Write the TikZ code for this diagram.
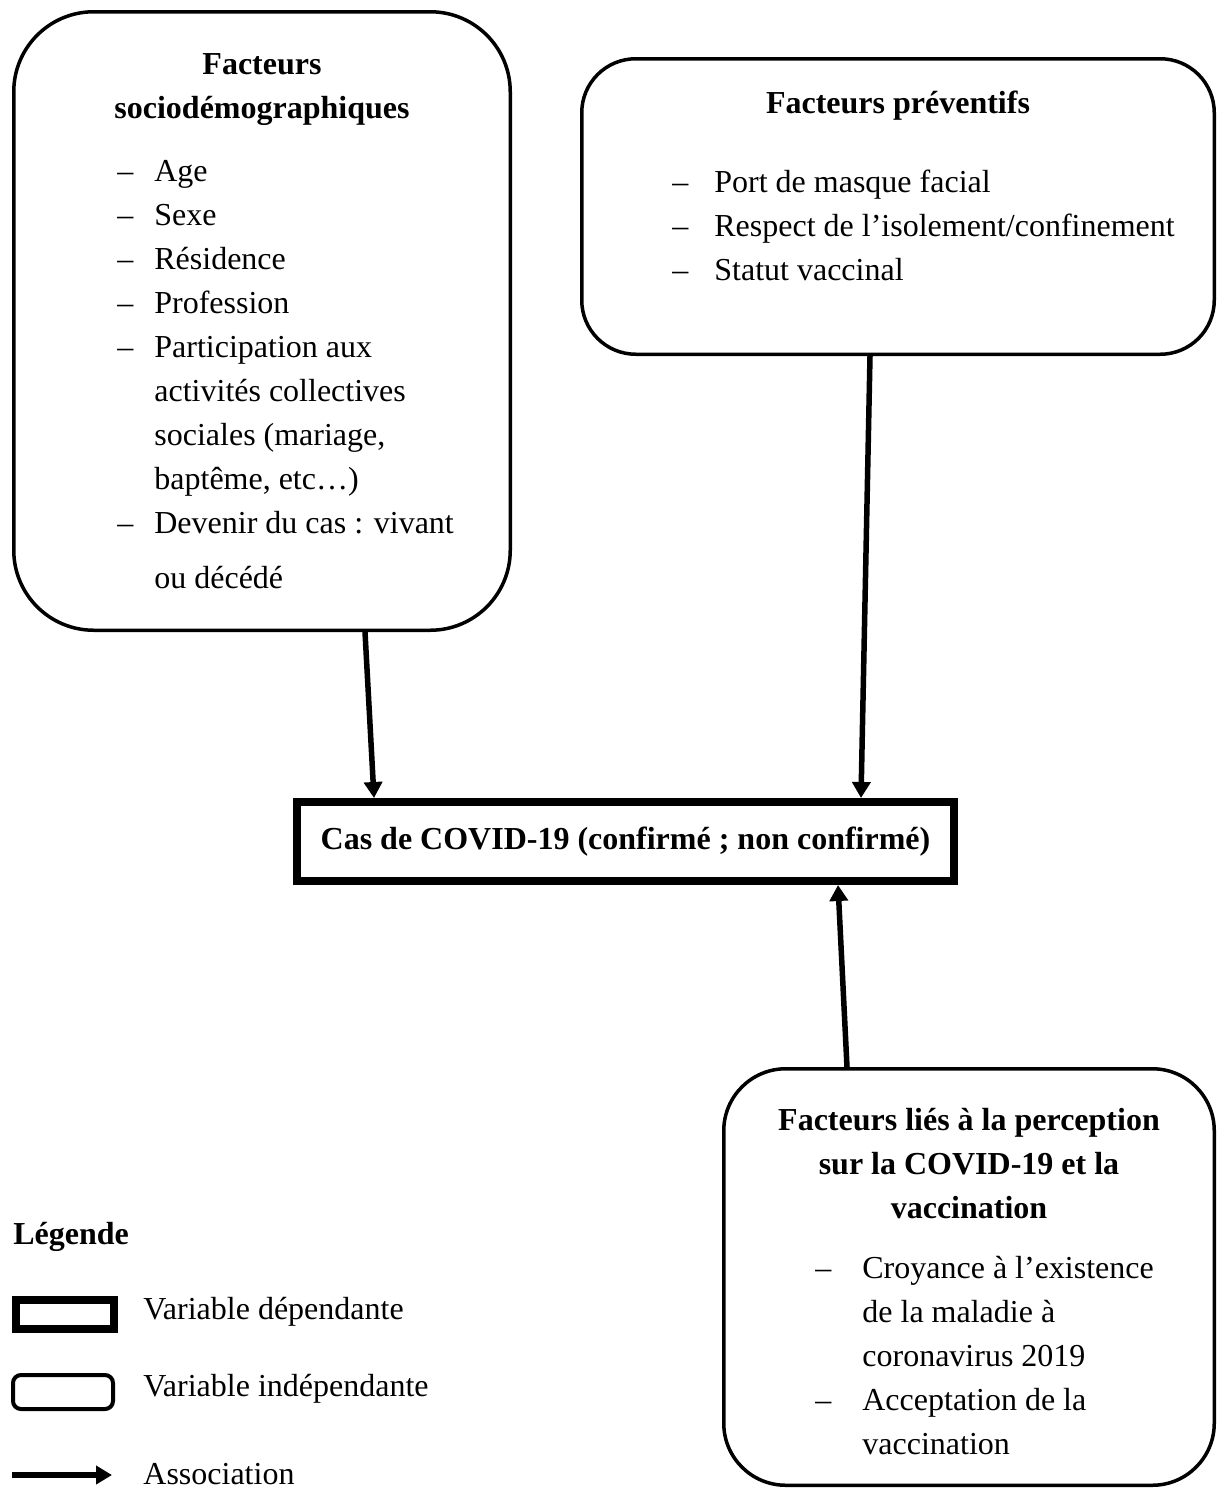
\documentclass[tikz,border=0pt]{standalone}
\usepackage{fontspec}
\setmainfont{Liberation Serif}
\usetikzlibrary{arrows.meta,calc,positioning}
\tikzset{
	concept map/.style={
		x=0.5pt, y=-0.5pt,
		font=\fontsize{16}{22}\selectfont,
		every node/.style={inner sep=0pt},
		ar/.style={-{Triangle[length=8pt,width=9pt]}, line width=2.75pt},
		node distance=16pt
		},
	factor/.style={draw, line width=1.75pt, rounded corners=#1, anchor=north west},
	factor/.default=30pt,
	outcome/.style={draw, line width=4pt, minimum width=328.5pt, minimum height=39.5pt,
		font=\fontsize{16}{22}\selectfont\bfseries},
	head/.style={font=\fontsize{16}{22}\selectfont\bfseries},
	list/.style={anchor=north west},
	key/.style={anchor=mid west}
}

\begin{document}
\begin{tikzpicture}[concept map]
	\useasboundingbox (0,0) rectangle (1218,1488);
	\node[factor=40pt, minimum width=248.25pt, minimum height=309.25pt] (F1) at (12,10) {};
	\node[factor=27pt, minimum width=316.25pt, minimum height=147.75pt] (F2) at (580,57) {};
	\node[factor=31pt, minimum width=245.25pt, minimum height=208.25pt] (F3) at (722,1067) {};
	\node[outcome] (Y) at (625.5,841.5) {Cas de COVID-19 (confirmé ; non confirmé)};
	\node[head, below=16.5pt of F1.north] (F1_name) {\begin{tabular}{@{}c@{}}Facteurs\\sociodémographiques\end{tabular}};
	\node[head, below=12.5pt of F2.north] (F2_name) {\begin{tabular}{@{}c@{}}Facteurs préventifs\end{tabular}};
	\node[head, below=16pt of F3.north] (F3_name) {\begin{tabular}{@{}c@{}}Facteurs liés à la perception\\sur la COVID-19 et la\\vaccination\end{tabular}};
	\node[list] (F1_list) at (117,150) {\begin{tabular}{@{}p{18.5pt}@{}l@{}}
		\textendash & Age\\
		\textendash & Sexe\\
		\textendash & Résidence\\
		\textendash & Profession\\
		\textendash & Participation aux\\
		& activités collectives\\
		& sociales (mariage,\\
		& baptême, etc…)\\
		\textendash & Devenir du cas : vivant\\[5.5pt]
		& ou décédé
		\end{tabular}};
	\node[list] (F2_list) at (672,161) {\begin{tabular}{@{}p{21pt}@{}l@{}}
		\textendash & Port de masque facial\\
		\textendash & Respect de l’isolement/confinement\\
		\textendash & Statut vaccinal
		\end{tabular}};
	\node[list] (F3_list) at (815,1247) {\begin{tabular}{@{}p{23.5pt}@{}l@{}}
		\textendash & Croyance à l’existence\\
		& de la maladie à\\
		& coronavirus 2019\\
		\textendash & Acceptation de la\\
		& vaccination
		\end{tabular}};
	\draw[ar] ($(F1.south)+(103,0)$) -- ($(Y.north)+(-251.5,0)$);
	\draw[ar] ($(F2.south)+(-28,0)$) -- ($(Y.north)+(235.5,0)$);
	\draw[ar] ($(F3.north)+(-122,0)$) -- ($(Y.south)+(212.5,0)$);
	\node[key, head] (L) at (13,1240) {Légende};
	\node[draw, line width=3.75pt, minimum width=49pt, minimum height=14.5pt] (L_dep) at (65,1314.5) {};
	\node[key] (L_dep_text) at (143,1315) {Variable dépendante};
	\node[draw, line width=2pt, rounded corners=4pt, minimum width=50pt, minimum height=17pt] (L_ind) at (63,1392) {};
	\node[key] (L_ind_text) at (143,1392) {Variable indépendante};
	\coordinate (L_ar_a) at (12,1475);
	\coordinate (L_ar_b) at (112,1475);
	\draw[ar] (L_ar_a) -- (L_ar_b);
	\node[anchor=base west] (L_ar_text) at (143,1484) {Association};
\end{tikzpicture}
\end{document}
